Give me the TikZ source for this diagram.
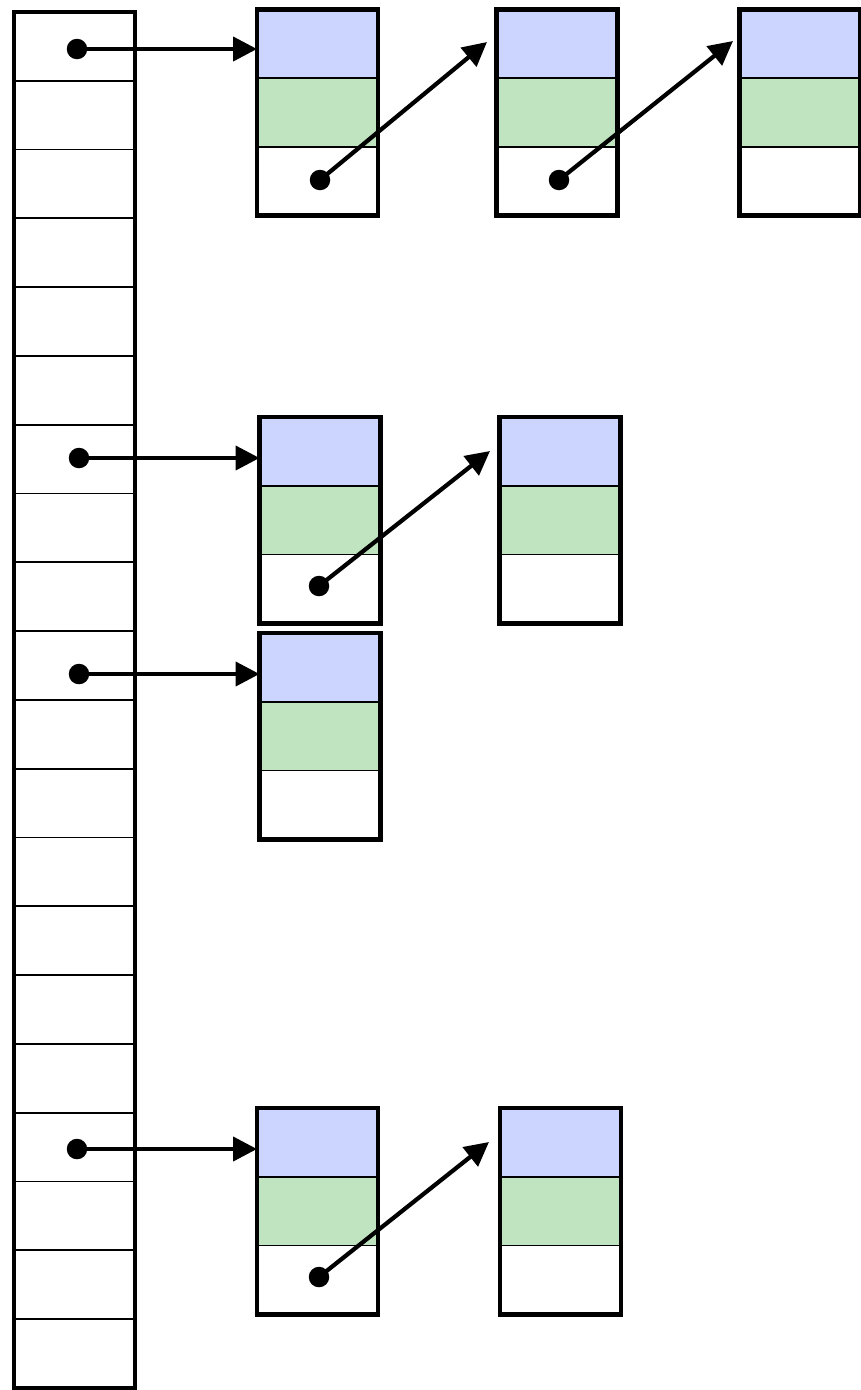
\documentclass[tikz,border=0pt]{standalone}
\usepackage{tikz}
\usetikzlibrary{arrows.meta,positioning}
\definecolor{headblue}{HTML}{CCD5FF}
\definecolor{bodygreen}{HTML}{C0E3C0}

\tikzset{
  slot/.style={draw, line width=1pt, minimum width=2.42cm, minimum height=1.375cm, inner sep=0pt, outer sep=0pt},
  head/.style={slot, fill=headblue},
  body/.style={slot, fill=bodygreen},
  tail/.style={slot, fill=white},
  frame/.style={line width=2.6pt},
  dot/.style={circle, fill=black, inner sep=0pt, minimum size=0.41cm},
  ptr/.style={line width=2.4pt, -{Triangle[length=0.48cm, width=0.48cm]}},
}

\begin{document}
\begin{tikzpicture}[x=0.02cm, y=-0.02cm]
	\useasboundingbox (0,0) rectangle (861,1390);
	% bucket array
	\foreach \i in {0,...,19}
		\node[slot, anchor=north west] (s\i) at (14,12+68.8*\i) {};
	\draw[frame] (s0.north west) rectangle (s19.south east);
	% chained records
	\foreach \n/\x/\y in {a/257/9.5, b/496.5/9.5, c/739.5/9.5, d/259.5/417, e/499.5/417, f/259.5/633, g/257/1108, h/500/1108} {
		\node[head, anchor=north west] (\n1) at (\x,\y) {};
		\node[body, below=0pt of \n1] (\n2) {};
		\node[tail, below=0pt of \n2] (\n3) {};
		\draw[frame] (\n1.north west) rectangle (\n3.south east);
	}
	% bucket pointers
	\node[dot] (p1) at (77,49) {};
	\node[dot] (p2) at (79,458) {};
	\node[dot] (p3) at (79,674) {};
	\node[dot] (p4) at (77,1149) {};
	\draw[ptr] (p1.center) -- (p1 -| a1.west);
	\draw[ptr] (p2.center) -- (p2 -| d1.west);
	\draw[ptr] (p3.center) -- (p3 -| f1.west);
	\draw[ptr] (p4.center) -- (p4 -| g1.west);
	% next pointers
	\node[dot] (q1) at (320,180) {};
	\node[dot] (q2) at (559,180) {};
	\node[dot] (q3) at (319,586) {};
	\node[dot] (q4) at (319,1277) {};
	\coordinate (t1) at (487,42);
	\coordinate (t2) at (733,41);
	\coordinate (t3) at (490,451);
	\coordinate (t4) at (489,1142);
	\draw[ptr] (q1.center) -- (t1);
	\draw[ptr] (q2.center) -- (t2);
	\draw[ptr] (q3.center) -- (t3);
	\draw[ptr] (q4.center) -- (t4);
\end{tikzpicture}
\end{document}
